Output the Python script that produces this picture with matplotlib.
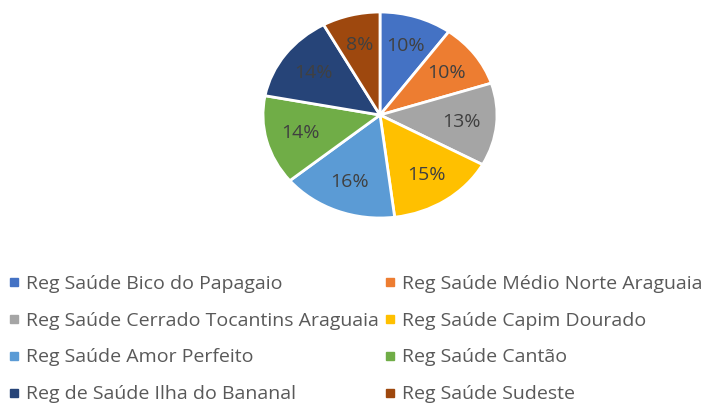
import matplotlib.pyplot as plt
from matplotlib.lines import Line2D

# data
regions = ["Reg Saúde Bico do Papagaio", "Reg Saúde Médio Norte Araguaia",
           "Reg Saúde Cerrado Tocantins Araguaia", "Reg Saúde Capim Dourado",
           "Reg Saúde Amor Perfeito", "Reg Saúde Cantão",
           "Reg de Saúde Ilha do Bananal", "Reg Saúde Sudeste"]
shares = [10, 10, 13, 15, 16, 14, 14, 8]
colors = ["#4472C4", "#ED7D31", "#A5A5A5", "#FFC000",
          "#5B9BD5", "#70AD47", "#264478", "#9E480E"]

fig = plt.figure(figsize=(7.12, 4.03), dpi=100)
W, H = 712, 403

# pie axes placed in pixel terms (the reference is a slightly squashed ellipse)
cx, cy, rx, ry = 380, 115, 117, 103
ax = fig.add_axes([(cx - rx) / W, 1 - (cy + ry) / H, 2 * rx / W, 2 * ry / H])
wedges, texts, autotexts = ax.pie(
    shares, colors=colors, startangle=90, counterclock=False,
    autopct="%d%%", pctdistance=0.7,
    wedgeprops=dict(edgecolor="white", linewidth=2),
    textprops=dict(color="#404040", fontsize=14, family="Open Sans"))
ax.set_xlim(-1, 1)
ax.set_ylim(-1, 1)
ax.set_aspect("auto")

# legend laid out row by row, two columns
order = [0, 2, 4, 6, 1, 3, 5, 7]
handles = [Line2D([], [], marker="s", ls="", color=colors[i], markersize=6) for i in order]
labels = [regions[i] for i in order]
leg = fig.legend(handles, labels, ncol=2, loc="upper left",
                 bbox_to_anchor=(1 / W, 1 - 267 / H), frameon=False,
                 prop=dict(family="Open Sans", size=14),
                 labelcolor="#595959", handlelength=0.5, handletextpad=0.4,
                 columnspacing=0.3, labelspacing=0.97, borderaxespad=0.0)

fig.savefig("out.png", dpi=100)
